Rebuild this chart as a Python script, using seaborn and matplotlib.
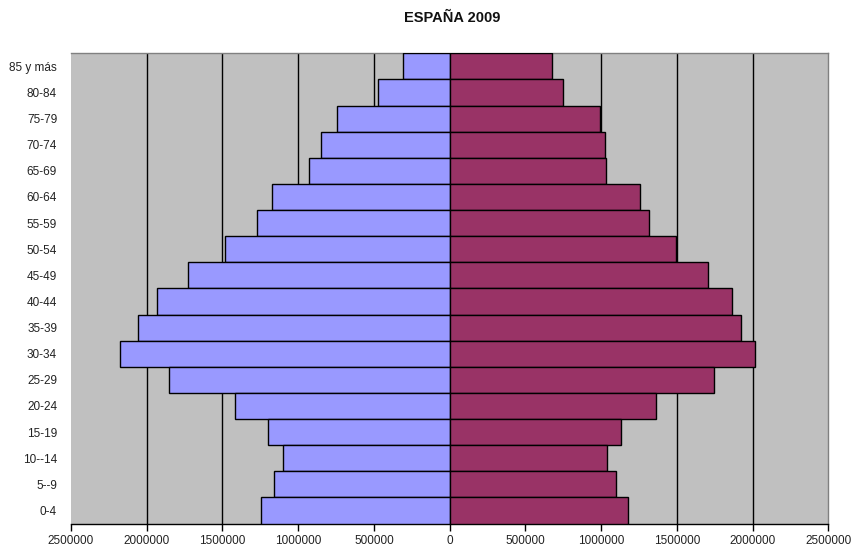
import pandas as pd
import matplotlib.pyplot as plt
import seaborn as sns
from matplotlib.ticker import FuncFormatter

# age groups, top to bottom
grupos = ['85 y más', '80-84', '75-79', '70-74', '65-69', '60-64', '55-59',
          '50-54', '45-49', '40-44', '35-39', '30-34', '25-29', '20-24',
          '15-19', '10--14', '5--9', '0-4']

# left side (blue) and right side (maroon)
hombres = [306000, 471000, 742000, 852000, 927000, 1175000, 1272000,
           1482000, 1728000, 1933000, 2060000, 2175000, 1851000, 1418000,
           1202000, 1101000, 1158000, 1246000]
mujeres = [678000, 750000, 995000, 1023000, 1030000, 1259000, 1316000,
           1496000, 1704000, 1862000, 1926000, 2016000, 1747000, 1360000,
           1133000, 1037000, 1100000, 1177000]

x_ticks = [-2500000, -2000000, -1500000, -1000000, -500000, 0,
           500000, 1000000, 1500000, 2000000, 2500000]

df = pd.concat([
    pd.DataFrame({'grupo': grupos, 'valor': [-v for v in hombres], 'sexo': 'Hombres'}),
    pd.DataFrame({'grupo': grupos, 'valor': mujeres, 'sexo': 'Mujeres'}),
])

sns.set_style('white')
plt.rcParams['font.family'] = ['Liberation Sans', 'DejaVu Sans']

fig = plt.figure(figsize=(8.53, 5.49), dpi=100)
ax = fig.add_axes([71 / 853, 1 - 523.5 / 549, (828.3 - 71) / 853, (523.5 - 53.3) / 549])
ax.set_facecolor('#C0C0C0')

sns.barplot(data=df, x='valor', y='grupo', hue='sexo', order=grupos,
            palette={'Hombres': '#9999FF', 'Mujeres': '#993366'},
            saturation=1, dodge=False, width=1.0, edgecolor='black',
            linewidth=1.0, legend=False, ax=ax, zorder=3)

ax.set_xlim(-2500000, 2500000)
ax.set_ylim(len(grupos) - 0.5, -0.5)
ax.set_xticks(x_ticks)
ax.xaxis.set_major_formatter(FuncFormatter(lambda v, p: f'{abs(int(v))}'))
for t in x_ticks[1:-1]:
    ax.axvline(t, color='black' if t != 0 else '#404040', lw=1.0, zorder=1)

ax.set_xlabel('')
ax.set_ylabel('')
ax.tick_params(axis='x', direction='out', length=5, width=1, color='black',
               labelsize=8.5, labelcolor='#222222', pad=3, bottom=True)
ax.tick_params(axis='y', length=0, labelsize=8.5, labelcolor='#222222', pad=10)

for s in ['top', 'right']:
    ax.spines[s].set_color('#808080')
    ax.spines[s].set_linewidth(1)
ax.spines['left'].set_visible(False)
ax.spines['bottom'].set_color('black')
ax.spines['bottom'].set_linewidth(1)

fig.text(452 / 853, 1 - 17.5 / 549, 'ESPAÑA 2009', ha='center', va='center',
         fontsize=10.5, fontweight='bold', color='#111111')

fig.savefig('out.png', dpi=100, facecolor='white')
